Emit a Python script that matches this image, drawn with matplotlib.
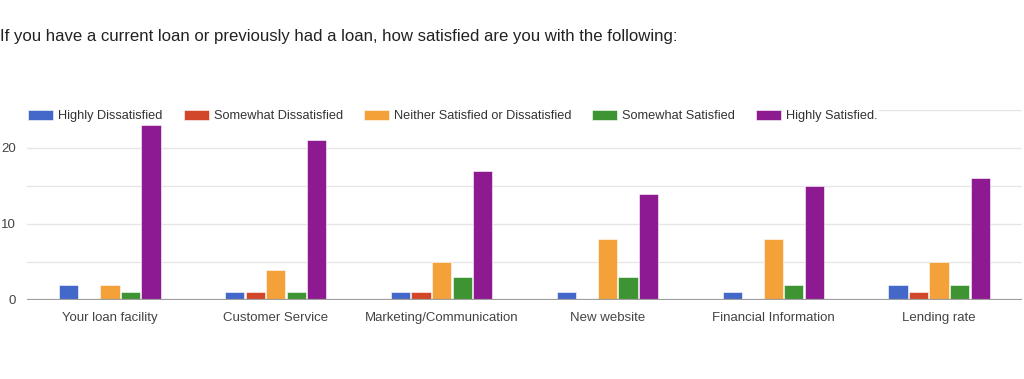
import numpy as np
import matplotlib
matplotlib.use("Agg")
import matplotlib.pyplot as plt

plt.rcParams['font.family'] = ['Liberation Sans', 'DejaVu Sans']

categories = ["Your loan facility", "Customer Service", "Marketing/Communication",
              "New website", "Financial Information", "Lending rate"]
series_names = ["Highly Dissatisfied", "Somewhat Dissatisfied",
                "Neither Satisfied or Dissatisfied", "Somewhat Satisfied",
                "Highly Satisfied."]
highly_dissatisfied = [2, 1, 1, 1, 1, 2]
somewhat_dissatisfied = [0, 1, 1, 0, 0, 1]
neither = [2, 4, 5, 8, 8, 5]
somewhat_satisfied = [1, 1, 3, 3, 2, 2]
highly_satisfied = [23, 21, 17, 14, 15, 16]
yticks = [0, 10, 20]

colors = ["#4368c9", "#d2472a", "#f4a13a", "#3e9433", "#8e1a91"]
values = [highly_dissatisfied, somewhat_dissatisfied, neither,
          somewhat_satisfied, highly_satisfied]

fig = plt.figure(figsize=(10.24, 3.79), dpi=100)
ax = fig.add_axes([27 / 1024, 1 - 300 / 379, 995 / 1024, 190 / 379])

x = np.arange(len(categories))
step = 0.124
width = 0.116
for i, (name, vals, c) in enumerate(zip(series_names, values, colors)):
    ax.bar(x + (i - 2) * step, vals, width, color=c, label=name,
           edgecolor="white", linewidth=0.4, zorder=3)

ax.set_xlim(-0.5, len(categories) - 0.5)
ax.set_ylim(0, 25)
for g in [5, 10, 15, 20, 25]:
    ax.axhline(g, color="#e6e6e6", linewidth=1, zorder=1)
ax.axhline(0, color="#9e9e9e", linewidth=1.6, zorder=4)

for s in ax.spines.values():
    s.set_visible(False)
ax.set_yticks(yticks)
ax.set_yticklabels([str(t) for t in yticks])
ax.set_xticks(x)
ax.set_xticklabels(categories)
ax.tick_params(axis="both", length=0, labelsize=9.5, colors="#444444")
ax.tick_params(axis="y", pad=8)
ax.tick_params(axis="x", pad=8.5)

fig.text(0.0, 1 - 37 / 379, "If you have a current loan or previously had a loan, how satisfied are you with the following:",
         fontsize=12.1, color="#222222", va="center", ha="left")

leg = fig.legend(loc="center left", bbox_to_anchor=(27 / 1024, 1 - 116 / 379), ncol=5,
                 frameon=True, fontsize=9.2, handlelength=1.95, handleheight=0.8,
                 handletextpad=0.4, columnspacing=1.64, borderaxespad=0,
                 borderpad=0.1)
leg.get_frame().set_facecolor("white")
leg.get_frame().set_edgecolor("none")
leg.get_frame().set_alpha(1)
for t in leg.get_texts():
    t.set_color("#333333")

fig.savefig("out.png", dpi=100)
